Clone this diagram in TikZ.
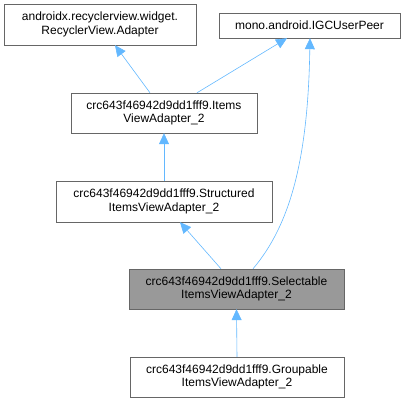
\documentclass[tikz,border=0pt]{standalone}
\usepackage{fontspec}
\setmainfont{Liberation Sans}
\usepackage{tikz}
\usetikzlibrary{positioning, arrows.meta, calc}

\tikzset{
    cls/.style={draw=gray!80!black, fill=white, align=center, inner sep=0pt,
        font=\fontsize{12}{13.5}\selectfont},
    clscur/.style={cls, fill=black!40, draw=black!60},
    inh/.style={draw={rgb,255:red,99;green,184;blue,255}, semithick,
        -{Triangle[length=11pt, width=10pt, fill={rgb,255:red,99;green,184;blue,255}]}}
}

\begin{document}
\begin{tikzpicture}[x=1pt, y=-1pt]
    \useasboundingbox (0,0) rectangle (405,403);

    % ---------------- CLASS BOXES ----------------
    \node[cls, minimum width=192pt, minimum height=41pt] (adapter) at (100,24.5)
        {androidx.recyclerview.widget.\\RecyclerView.Adapter};
    \node[cls, minimum width=181pt, minimum height=25pt] (peer) at (309.5,25.5)
        {mono.android.IGCUserPeer};
    \node[cls, minimum width=186pt, minimum height=40pt] (items) at (164,113)
        {crc643f46942d9dd1fff9.Items\\ViewAdapter\_2};
    \node[cls, minimum width=216pt, minimum height=41pt] (structured) at (164,201.5)
        {crc643f46942d9dd1fff9.Structured\\ItemsViewAdapter\_2};
    \node[clscur, minimum width=215pt, minimum height=40pt] (selectable) at (236.5,289)
        {crc643f46942d9dd1fff9.Selectable\\ItemsViewAdapter\_2};
    \node[cls, minimum width=214pt, minimum height=40pt] (groupable) at (237,377)
        {crc643f46942d9dd1fff9.Groupable\\ItemsViewAdapter\_2};

    % ---------------- INHERITANCE ----------------
    \draw[inh] ([xshift=-14pt]items.north) -- ([xshift=15pt]adapter.south);
    \draw[inh] ([xshift=33pt]items.north) -- ([xshift=-22.5pt]peer.south);
    \draw[inh] (structured.north) -- (items.south);
    \draw[inh] ([xshift=-15.5pt]selectable.north) -- ([xshift=16pt]structured.south);
    \draw[inh] ([xshift=16.5pt]selectable.north) .. controls (290,225) and (308,160) .. ([xshift=0.5pt]peer.south);
    \draw[inh] (groupable.north) -- (selectable.south);
\end{tikzpicture}
\end{document}
